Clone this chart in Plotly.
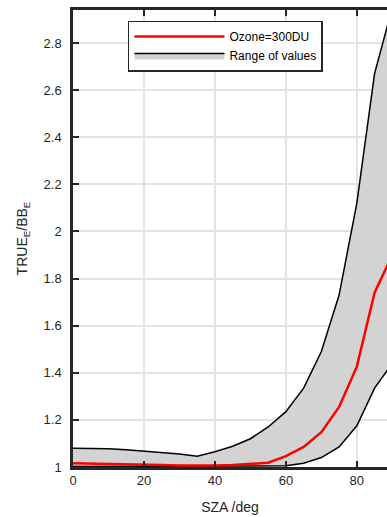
import plotly.graph_objects as go

sza = [0, 5, 10, 15, 20, 25, 30, 35, 40, 45, 50, 55, 60, 65, 70, 75, 80, 85, 90]
ozone300 = [1.016, 1.015, 1.014, 1.012, 1.010, 1.008, 1.006, 1.005, 1.006, 1.008,
            1.012, 1.018, 1.046, 1.085, 1.148, 1.255, 1.426, 1.740, 1.900]
range_upper = [1.080, 1.079, 1.077, 1.073, 1.068, 1.062, 1.055, 1.046, 1.065, 1.088,
               1.120, 1.170, 1.235, 1.335, 1.490, 1.730, 2.120, 2.670, 2.950]
range_lower = [1.002, 1.002, 1.002, 1.002, 1.002, 1.002, 1.002, 1.002, 1.002, 1.002,
               1.002, 1.003, 1.005, 1.016, 1.040, 1.085, 1.175, 1.335, 1.440]
y_ticks = [1, 1.2, 1.4, 1.6, 1.8, 2, 2.2, 2.4, 2.6, 2.8]
x_ticks = [0, 20, 40, 60, 80]

ink = "#262626"
font = "Liberation Sans, Arial, Helvetica, sans-serif"

fig = go.Figure()
fig.add_trace(go.Scatter(x=sza, y=range_lower, mode="lines",
                         line=dict(color="black", width=1.5),
                         showlegend=False, hoverinfo="skip"))
fig.add_trace(go.Scatter(x=sza, y=range_upper, mode="lines", fill="tonexty",
                         fillcolor="#d3d3d3", line=dict(color="black", width=1.5),
                         name="Range of values", legendrank=2))
fig.add_trace(go.Scatter(x=sza, y=ozone300, mode="lines",
                         line=dict(color="#ff0000", width=2.5),
                         name="Ozone=300DU", legendrank=1))

fig.update_layout(
    width=387, height=517,
    margin=dict(l=73, r=0, t=10, b=50),
    paper_bgcolor="white", plot_bgcolor="white",
    font=dict(family=font, color=ink, size=13),
    legend=dict(x=0.175, y=0.977, xanchor="left", yanchor="top",
                bgcolor="white", bordercolor=ink, borderwidth=1.5,
                font=dict(size=12, color="black"), itemwidth=90,
                entrywidth=208, entrywidthmode="pixels",
                traceorder="normal", tracegroupgap=0),
    xaxis=dict(range=[0, 88.5], tickvals=x_ticks, ticks="inside", ticklen=6,
               tickwidth=2, tickcolor=ink, showline=True, linecolor=ink,
               linewidth=2.5, mirror="ticks", showgrid=True, gridcolor="#e3e3e3",
               gridwidth=2, zeroline=False, automargin=False,
               title=dict(text="SZA /deg", font=dict(size=14), standoff=15),
               tickfont=dict(size=13)),
    yaxis=dict(range=[1, 2.94], tickvals=y_ticks,
               ticktext=["1", "1.2", "1.4", "1.6", "1.8", "2", "2.2", "2.4", "2.6", "2.8"],
               ticks="inside", ticklen=6, tickwidth=2, tickcolor=ink,
               showline=True, linecolor=ink, linewidth=2.5, mirror=False,
               showgrid=True, gridcolor="#e3e3e3", gridwidth=2, zeroline=False,
               ticklabelstandoff=6, automargin=False,
               title=dict(text="TRUE<sub>E</sub>/BB<sub>E</sub>", font=dict(size=14), standoff=13),
               tickfont=dict(size=13)),
)

fig.write_html("out.html", config={"displayModeBar": False},
               post_script="document.body.style.margin='0';document.body.style.overflow='hidden';")
